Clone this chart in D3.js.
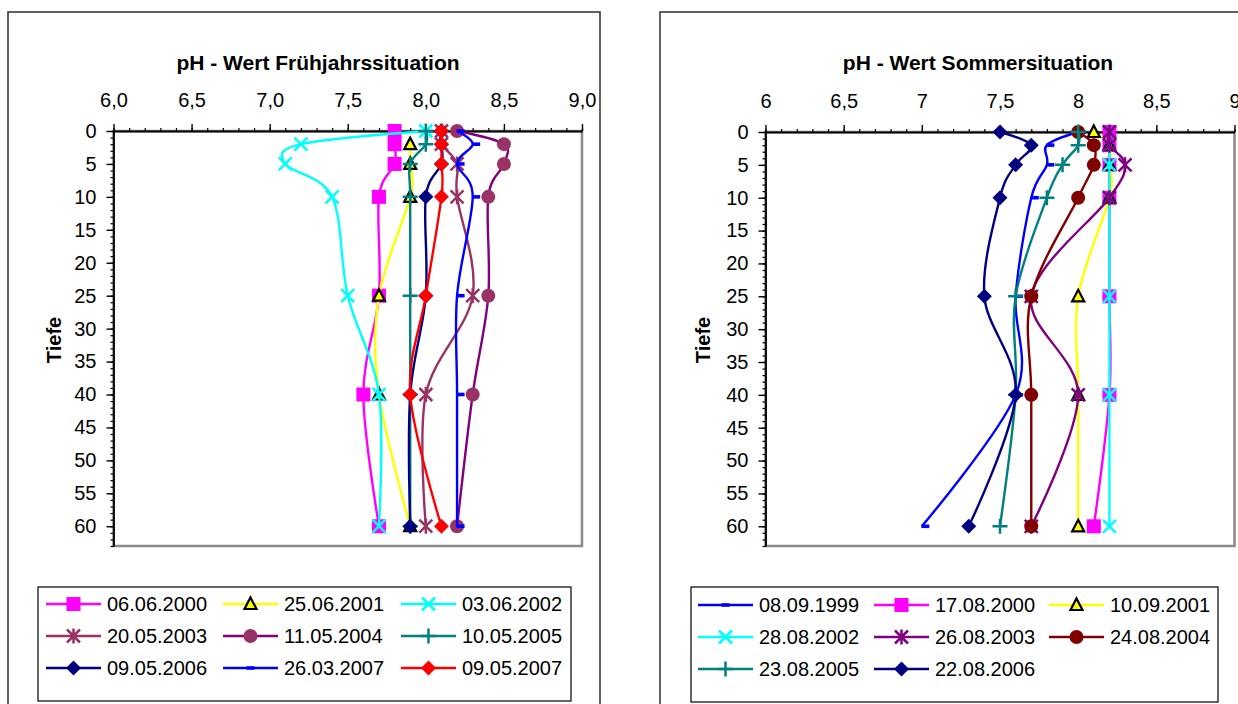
<!DOCTYPE html>
<html><head><meta charset="utf-8">
<script src="https://cdn.jsdelivr.net/npm/d3@7"></script>
<style>
body{margin:0;background:#fff}
svg{display:block}
text{font-family:"Liberation Sans",Arial,sans-serif;fill:#000}
</style>
</head><body>
<svg id="c" width="1238" height="704"></svg>
<script>
// ---------- DATA ----------
const depths = [0, 2, 5, 10, 25, 40, 60];
const xTicks = [6, 6.5, 7, 7.5, 8, 8.5, 9];
const yTicks = [0, 5, 10, 15, 20, 25, 30, 35, 40, 45, 50, 55, 60];

const springTitle = "pH - Wert Frühjahrssituation";
const summerTitle = "pH - Wert Sommersituation";
const yTitle = "Tiefe";

const springNames = ["06.06.2000","25.06.2001","03.06.2002","20.05.2003","11.05.2004","10.05.2005","09.05.2006","26.03.2007","09.05.2007"];
const sp2000 = [7.8, 7.8, 7.8, 7.7, 7.7, 7.6, 7.7];
const sp2001 = [null, 7.9, 7.9, 7.9, 7.7, 7.7, 7.9];
const sp2002 = [8.0, 7.2, 7.1, 7.4, 7.5, 7.7, 7.7];
const sp2003 = [8.1, 8.1, 8.2, 8.2, 8.3, 8.0, 8.0];
const sp2004 = [8.2, 8.5, 8.5, 8.4, 8.4, 8.3, 8.2];
const sp2005 = [8.0, 8.0, 7.9, 7.9, 7.9, 7.9, 7.9];
const sp2006 = [8.1, 8.1, 8.1, 8.0, 8.0, 7.9, 7.9];
const sp2007a = [8.2, 8.3, 8.2, 8.3, 8.2, 8.2, 8.2];
const sp2007b = [8.1, 8.1, 8.1, 8.1, 8.0, 7.9, 8.1];

const summerNames = ["08.09.1999","17.08.2000","10.09.2001","28.08.2002","26.08.2003","24.08.2004","23.08.2005","22.08.2006"];
const su1999 = [8.0, 7.8, 7.8, 7.7, 7.6, 7.6, 7.0];
const su2000 = [8.2, 8.2, 8.2, 8.2, 8.2, 8.2, 8.1];
const su2001 = [8.1, 8.2, 8.2, 8.2, 8.0, 8.0, 8.0];
const su2002 = [8.2, 8.2, 8.2, 8.2, 8.2, 8.2, 8.2];
const su2003 = [8.2, 8.2, 8.3, 8.2, 7.7, 8.0, 7.7];
const su2004 = [8.0, 8.1, 8.1, 8.0, 7.7, 7.7, 7.7];
const su2005 = [8.0, 8.0, 7.9, 7.8, 7.6, 7.6, 7.5];
const su2006 = [7.5, 7.7, 7.6, 7.5, 7.4, 7.6, 7.3];

// ---------- STYLES ----------
const springStyles = [
  {line:"#FF00FF", marker:"square", fill:"#FF00FF"},
  {line:"#FFFF00", marker:"triangle", fill:"#FFFF00"},
  {line:"#00FFFF", marker:"x", fill:"#00FFFF"},
  {line:"#993366", marker:"star", fill:"#993366"},
  {line:"#800080", marker:"circle", fill:"#993366"},
  {line:"#008080", marker:"plus", fill:"#008080"},
  {line:"#000080", marker:"diamond", fill:"#000080"},
  {line:"#0000FF", marker:"dash", fill:"#0000FF"},
  {line:"#FF0000", marker:"diamond", fill:"#FF0000"}
];
const summerStyles = [
  {line:"#0000FF", marker:"dash", fill:"#0000FF"},
  {line:"#FF00FF", marker:"square", fill:"#FF00FF"},
  {line:"#FFFF00", marker:"triangle", fill:"#FFFF00"},
  {line:"#00FFFF", marker:"x", fill:"#00FFFF"},
  {line:"#800080", marker:"star", fill:"#800080"},
  {line:"#800000", marker:"circle", fill:"#800000"},
  {line:"#008080", marker:"plus", fill:"#008080"},
  {line:"#000080", marker:"diamond", fill:"#000080"}
];

const svg = d3.select("#c");
svg.append("rect").attr("width",1238).attr("height",704).attr("fill","#fff");

function marker(g, st, cx, cy) {
  const m = st.marker, c = st.fill;
  if (m === "square") {
    g.append("rect").attr("x",cx-7).attr("y",cy-7).attr("width",14).attr("height",14).attr("fill",c);
  } else if (m === "triangle") {
    g.append("path").attr("d",`M${cx},${cy-6.5}L${cx+6},${cy+5}L${cx-6},${cy+5}Z`)
      .attr("fill",c).attr("stroke","#000").attr("stroke-width",2.2).attr("stroke-linejoin","miter");
  } else if (m === "x") {
    g.append("path").attr("d",`M${cx-6.5},${cy-6.5}L${cx+6.5},${cy+6.5}M${cx-6.5},${cy+6.5}L${cx+6.5},${cy-6.5}`)
      .attr("stroke",c).attr("stroke-width",2.5).attr("fill","none");
  } else if (m === "star") {
    g.append("path").attr("d",`M${cx-6.5},${cy-6.5}L${cx+6.5},${cy+6.5}M${cx-6.5},${cy+6.5}L${cx+6.5},${cy-6.5}M${cx},${cy-7.5}L${cx},${cy+7.5}`)
      .attr("stroke",c).attr("stroke-width",2.5).attr("fill","none");
  } else if (m === "circle") {
    g.append("circle").attr("cx",cx).attr("cy",cy).attr("r",7).attr("fill",c);
  } else if (m === "plus") {
    g.append("path").attr("d",`M${cx-7.5},${cy}L${cx+7.5},${cy}M${cx},${cy-7.5}L${cx},${cy+7.5}`)
      .attr("stroke",c).attr("stroke-width",2.5).attr("fill","none");
  } else if (m === "diamond") {
    g.append("path").attr("d",`M${cx},${cy-7.5}L${cx+7.5},${cy}L${cx},${cy+7.5}L${cx-7.5},${cy}Z`).attr("fill",c);
  } else if (m === "dash") {
    g.append("rect").attr("x",cx-0.5).attr("y",cy-1.8).attr("width",8).attr("height",3.6).attr("fill",c);
  }
}

function chart(cfg) {
  const g = svg.append("g");
  // outer frame
  g.append("rect").attr("x",cfg.fx).attr("y",12).attr("width",cfg.fw).attr("height",760)
    .attr("fill","none").attr("stroke","#3a3a3a").attr("stroke-width",1.6);

  const x = d3.scaleLinear().domain([6,9]).range(cfg.xr);
  const y = d3.scaleLinear().domain([0,63]).range(cfg.yr);

  // plot area
  g.append("rect").attr("x",x(6)).attr("y",y(0)).attr("width",x(9)-x(6)).attr("height",y(63)-y(0))
    .attr("fill","#fff").attr("stroke","#8a8a8a").attr("stroke-width",2.5);

  // x axis (top)
  const xMinor = d3.range(60, 91).map(v => v/10);
  g.append("g").attr("transform",`translate(0,${y(0)})`)
    .call(d3.axisTop(x).tickValues(xMinor).tickSize(3).tickFormat("").tickSizeOuter(0))
    .call(a => a.select(".domain").remove())
    .selectAll("line").attr("stroke","#000").attr("stroke-width",1.2);
  const xa = g.append("g").attr("transform",`translate(0,${y(0)})`)
    .call(d3.axisTop(x).tickValues(xTicks).tickSize(7).tickSizeOuter(0).tickPadding(17)
      .tickFormat(cfg.xfmt));
  xa.select(".domain").attr("stroke","#000").attr("stroke-width",1.8);
  xa.selectAll("line").attr("stroke","#000").attr("stroke-width",1.4);
  xa.selectAll("text").attr("font-size",20).attr("fill","#000");

  // y axis (left)
  const yMinor = d3.range(0, 64);
  g.append("g").attr("transform",`translate(${x(6)},0)`)
    .call(d3.axisLeft(y).tickValues(yMinor).tickSize(3).tickFormat("").tickSizeOuter(0))
    .call(a => a.select(".domain").remove())
    .selectAll("line").attr("stroke","#000").attr("stroke-width",1.2);
  const ya = g.append("g").attr("transform",`translate(${x(6)},0)`)
    .call(d3.axisLeft(y).tickValues(yTicks).tickSize(7).tickSizeOuter(0).tickPadding(10));
  ya.select(".domain").attr("stroke","#000").attr("stroke-width",1.8);
  ya.selectAll("line").attr("stroke","#000").attr("stroke-width",1.4);
  ya.selectAll("text").attr("font-size",20).attr("fill","#000");

  // titles
  g.append("text").attr("x",cfg.tx).attr("y",70).attr("text-anchor","middle")
    .attr("font-size",21).attr("font-weight","bold").text(cfg.title);
  g.append("text").attr("transform",`translate(${cfg.ytx},340) rotate(-90)`).attr("text-anchor","middle")
    .attr("font-size",20).attr("font-weight","bold").text(yTitle);

  // series
  const clipG = g.append("g");
  const line = d3.line().defined(d => d.v != null).x(d => x(d.v)).y(d => y(d.d))
    .curve(d3.curveCardinal.tension(0));
  cfg.series.forEach((vals, i) => {
    const st = cfg.styles[i];
    const pts = depths.map((d, j) => ({d, v: vals[j]}));
    const sg = clipG.append("g");
    sg.append("path").datum(pts.filter(p => p.v != null)).attr("d", line)
      .attr("fill","none").attr("stroke",st.line).attr("stroke-width",2.4);
    pts.filter(p => p.v != null).forEach(p => marker(sg, st, x(p.v), y(p.d)));
  });

  // legend
  const L = cfg.legend;
  g.append("rect").attr("x",L.x).attr("y",L.y).attr("width",L.w).attr("height",L.h)
    .attr("fill","#fff").attr("stroke","#000").attr("stroke-width",1.2);
  cfg.names.forEach((name, i) => {
    const col = i % 3, row = Math.floor(i / 3);
    const lx = L.cols[col], ly = L.rows[row];
    const st = cfg.styles[i];
    const lg = g.append("g");
    lg.append("line").attr("x1",lx).attr("x2",lx+55).attr("y1",ly).attr("y2",ly)
      .attr("stroke",st.line).attr("stroke-width",2.4);
    marker(lg, st, lx + 27.5 - (st.marker === "dash" ? 3.5 : 0), ly);
    lg.append("text").attr("x",lx+61).attr("y",ly+7).attr("font-size",20).text(name);
  });
}

chart({
  fx: 8, fw: 592, xr: [113.5, 582], yr: [131, 546], tx: 318, ytx: 61,
  title: springTitle, xfmt: d => d3.format(".1f")(d).replace(".", ","),
  series: [sp2000, sp2001, sp2002, sp2003, sp2004, sp2005, sp2006, sp2007a, sp2007b],
  styles: springStyles, names: springNames,
  legend: {x: 38, y: 587, w: 533, h: 114, cols: [46, 223, 401], rows: [604, 636, 668]}
});
chart({
  fx: 660, fw: 620, xr: [765.5, 1234.5], yr: [132, 546], tx: 978, ytx: 710,
  title: summerTitle, xfmt: d => String(d).replace(".", ","),
  series: [su1999, su2000, su2001, su2002, su2003, su2004, su2005, su2006],
  styles: summerStyles, names: summerNames,
  legend: {x: 691, y: 587, w: 527, h: 115, cols: [698, 874, 1049], rows: [605, 637, 669]}
});
</script>
</body></html>
